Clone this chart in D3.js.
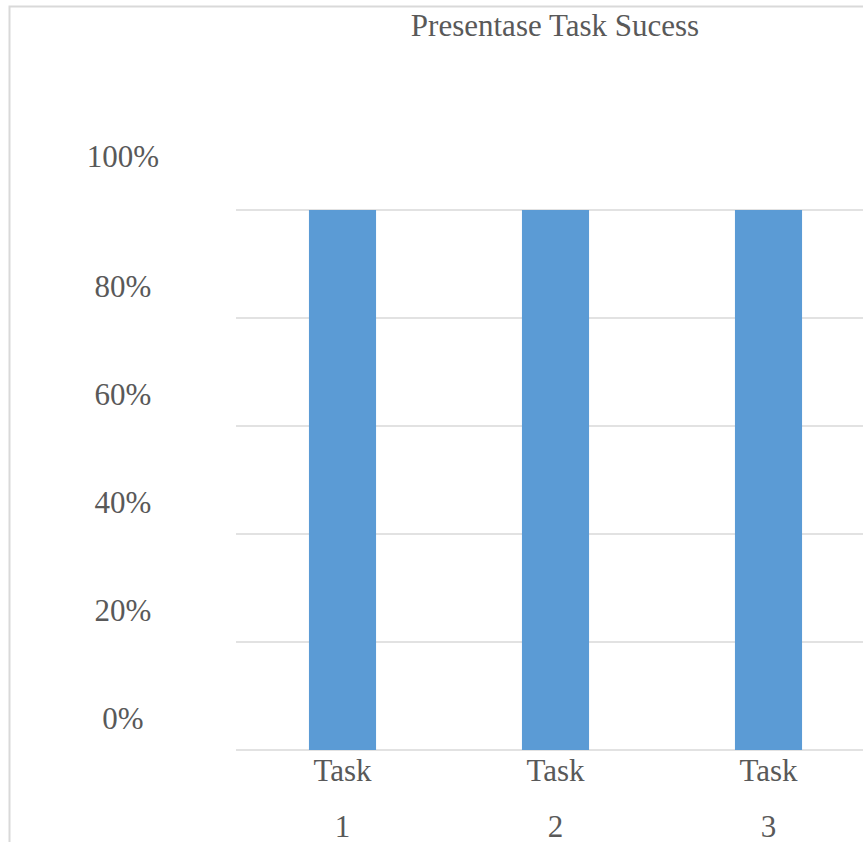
<!DOCTYPE html>
<html>
<head>
<meta charset="utf-8">
<script src="https://cdn.jsdelivr.net/npm/d3@7"></script>
<style>
  body { margin: 0; background: #fff; }
  svg { display: block; font-family: "Liberation Serif", "Times New Roman", serif; }
</style>
</head>
<body>
<div id="chart"></div>
<script>
// data
const categories = ["Task 1", "Task 2", "Task 3"]
const values = [1, 1, 1]
const yTicks = [0, 0.2, 0.4, 0.6, 0.8, 1]
const title = "Presentase Task Sucess"

const width = 863
const height = 842
const textColor = "#595959"
const gridColor = "#d9d9d9"
const barColor = "#5b9bd5"

const svg = d3.select("#chart").append("svg")
    .attr("width", width)
    .attr("height", height)

// chart area border (top + left, rest is cropped off)
svg.append("path")
    .attr("d", `M9.5,${height} V6.5 H${width}`)
    .attr("fill", "none")
    .attr("stroke", gridColor)
    .attr("stroke-width", 2)

const x = d3.scaleBand()
    .domain(categories)
    .range([236, 875])
    .paddingInner(0.685)
    .paddingOuter(0.3425)

const y = d3.scaleLinear()
    .domain([0, 1])
    .range([750, 210])

// gridlines
svg.append("g")
    .selectAll("line")
    .data(yTicks)
    .enter().append("line")
      .attr("x1", 236)
      .attr("x2", 875)
      .attr("y1", d => y(d))
      .attr("y2", d => y(d))
      .attr("stroke", gridColor)
      .attr("stroke-width", 1.6)

// y labels sit above their gridline, the top one a bit higher
svg.append("g")
    .selectAll("text")
    .data(yTicks)
    .enter().append("text")
      .attr("x", 123)
      .attr("y", d => d === 1 ? y(d) - 43 : y(d) - 21)
      .attr("text-anchor", "middle")
      .attr("font-size", 31)
      .attr("fill", textColor)
      .text(d3.format(".0%"))

// bars
svg.append("g")
    .selectAll("rect")
    .data(values)
    .enter().append("rect")
      .attr("x", (d, i) => x(categories[i]))
      .attr("y", d => y(d))
      .attr("width", x.bandwidth())
      .attr("height", d => y(0) - y(d))
      .attr("fill", barColor)

// x labels, wrapped on two lines
const xl = svg.append("g")
    .selectAll("text")
    .data(categories)
    .enter().append("text")
      .attr("text-anchor", "middle")
      .attr("font-size", 31)
      .attr("fill", textColor)

xl.each(function(d) {
    const words = d.split(" ")
    const cx = x(d) + x.bandwidth() / 2
    d3.select(this).selectAll("tspan")
        .data(words)
        .enter().append("tspan")
          .attr("x", cx)
          .attr("y", (w, i) => 781 + i * 56)
          .text(w => w)
})

svg.append("text")
    .attr("x", 555)
    .attr("y", 36)
    .attr("text-anchor", "middle")
    .attr("font-size", 31)
    .attr("fill", textColor)
    .text(title)
</script>
</body>
</html>
